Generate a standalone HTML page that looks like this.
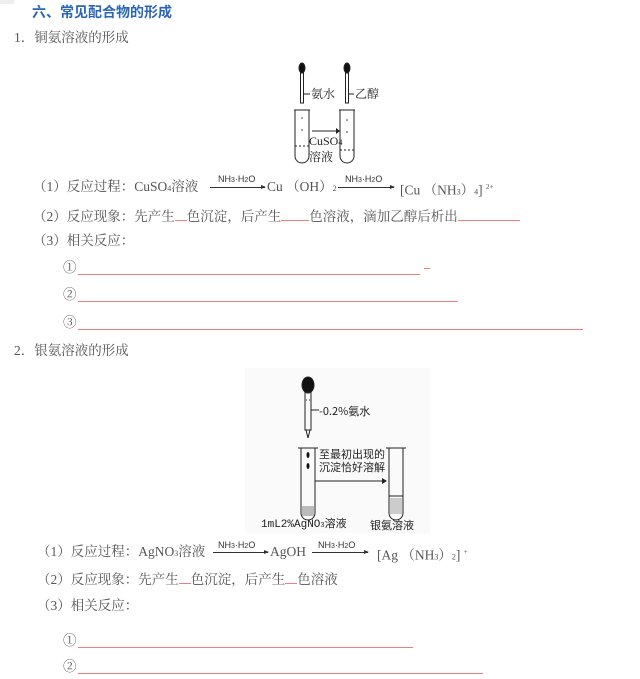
<!DOCTYPE html>
<html><head><meta charset="utf-8"><style>
body{margin:0;width:640px;height:679px;background:#fff;position:relative;overflow:hidden;font-family:"Liberation Serif","Noto Serif CJK SC","Noto Sans CJK SC",serif;color:#555;font-size:13.5px}
.a{position:absolute;white-space:nowrap;line-height:16px}
.t{color:#2a66b8;font-weight:bold;font-family:"Liberation Sans","Noto Sans CJK SC",sans-serif;font-size:14px}
.u{display:inline-block;border-bottom:1px solid #f07c7c;height:13px;vertical-align:baseline}
.rl{position:absolute;height:1px;background:#f07c7c}
.sm{font-size:8px}
.lab{position:absolute;font-size:9px;font-family:"Liberation Sans",sans-serif;color:#333}
.arr{position:absolute;height:0;border-top:1px solid #333}
.arr:after{content:"";position:absolute;right:-1px;top:-3px;border-left:5px solid #333;border-top:2.5px solid transparent;border-bottom:2.5px solid transparent}
</style></head><body>
<div style="position:absolute;left:0;top:0;width:14px;height:4px;background:#eee"></div>
<div class="a t" style="left:32px;top:4px">六、常见配合物的形成</div>
<div class="a" style="left:14px;top:30px">1．铜氨溶液的形成</div>

<svg style="position:absolute;left:290px;top:58px" width="80" height="110" viewBox="0 0 80 110">
<g stroke="#222" fill="none" stroke-width="1">
<ellipse cx="12" cy="10" rx="3" ry="5" fill="#111"/>
<rect x="10.5" y="15" width="3" height="30"/>
<line x1="13" y1="36" x2="20" y2="36"/>
<ellipse cx="57" cy="10" rx="3" ry="5" fill="#111"/>
<rect x="55.5" y="15" width="3" height="30"/>
<line x1="58" y1="36" x2="64" y2="36"/>
<path d="M5 52 V98 a7 7 0 0 0 14 0 V52"/>
<path d="M50 52 V98 a7 7 0 0 0 14 0 V52"/>
<line x1="4" y1="52" x2="20" y2="52"/><line x1="49" y1="52" x2="65" y2="52"/>
<line x1="22" y1="73" x2="46" y2="73"/>
<line x1="5" y1="88" x2="19" y2="88" stroke-dasharray="2 2"/>
<line x1="50" y1="92" x2="64" y2="92" stroke-dasharray="2 2"/>
</g>
<path d="M46 70 L50 73 L46 76z" fill="#222"/>
<circle cx="12" cy="60" r="0.8" fill="#333"/><circle cx="12" cy="72" r="0.8" fill="#333"/>
<circle cx="57" cy="62" r="0.8" fill="#333"/><circle cx="57" cy="74" r="0.8" fill="#333"/>
</svg>
<div class="a" style="left:311px;top:86px;font-size:12px;color:#222">氨水</div>
<div class="a" style="left:355px;top:86px;font-size:12px;color:#222">乙醇</div>
<div class="a" style="left:309px;top:133px;font-size:12px;color:#222">CuSO<span class="sm">4</span></div>
<div class="a" style="left:309px;top:149px;font-size:12px;color:#222">溶液</div>

<div class="a" style="left:33px;top:179px">（1）反应过程：CuSO<span class="sm">4</span>溶液</div>
<div class="lab" style="left:218px;top:174px">NH<span style="font-size:7px">3</span>·H<span style="font-size:7px">2</span>O</div>
<div class="arr" style="left:210px;top:187px;width:55px"></div>
<div class="a" style="left:267px;top:179px">Cu （OH）<span class="sm">2</span></div>
<div class="lab" style="left:345px;top:174px">NH<span style="font-size:7px">3</span>·H<span style="font-size:7px">2</span>O</div>
<div class="arr" style="left:338px;top:187px;width:56px"></div>
<div class="a" style="left:400px;top:179px">[Cu （NH<span class="sm">3</span>）<span class="sm">4</span>]  <sup style="font-size:7px">2+</sup></div>

<div class="a" style="left:33px;top:207px">（2）反应现象：先产生<span class="u" style="width:12px"></span>色沉淀，后产生<span class="u" style="width:28px"></span>色溶液，滴加乙醇后析出<span class="u" style="width:62px"></span></div>
<div class="a" style="left:33px;top:233px">（3）相关反应：</div>
<div class="a" style="left:63px;top:260px">①</div><div class="rl" style="left:78px;top:274px;width:342px"></div><div class="rl" style="left:424px;top:268px;width:6px"></div>
<div class="a" style="left:63px;top:287px">②</div><div class="rl" style="left:78px;top:301px;width:380px"></div>
<div class="a" style="left:63px;top:315px">③</div><div class="rl" style="left:78px;top:329px;width:505px"></div>

<div class="a" style="left:14px;top:343px">2．银氨溶液的形成</div>

<div style="position:absolute;left:245px;top:368px;width:185px;height:165px;background:#fafafa"></div>
<svg style="position:absolute;left:245px;top:368px" width="185" height="165" viewBox="0 0 185 165">
<g stroke="#222" fill="none" stroke-width="1">
<ellipse cx="63" cy="17" rx="6" ry="8" fill="#111"/>
<rect x="60" y="24" width="6" height="38"/>
<line x1="61" y1="32" x2="65" y2="32" stroke-dasharray="1 2"/>
<path d="M61 62 L63 70 L65 62"/>
<line x1="66" y1="42" x2="74" y2="42"/>
<path d="M56 80 V145 a7 7 0 0 0 14 0 V80"/>
<line x1="53" y1="80" x2="73" y2="80"/>
<path d="M144 80 V145 a7 7 0 0 0 14 0 V80"/>
<line x1="141" y1="80" x2="161" y2="80"/>
<line x1="70" y1="113" x2="137" y2="113"/>
<line x1="144" y1="128" x2="158" y2="128"/>
</g>
<path d="M137 110 L142 113 L137 116z" fill="#222"/>
<rect x="57" y="138" width="12" height="10" fill="#bbb"/>
<rect x="145" y="130" width="12" height="16" fill="#ccc"/>
<ellipse cx="63" cy="87" rx="1.5" ry="3" fill="#111"/>
<ellipse cx="63" cy="98" rx="1.5" ry="3" fill="#111"/>
</svg>
<div class="a" style="left:319px;top:403px;font-size:11px;color:#222;font-family:'Noto Sans CJK SC',sans-serif">-0.2%氨水</div>
<div class="a" style="left:319px;top:448px;font-size:11px;color:#222;font-family:'Noto Sans CJK SC',sans-serif;line-height:13px">至最初出现的<br>沉淀恰好溶解</div>
<div class="a" style="left:261px;top:517px;font-size:11px;color:#222;font-family:'Liberation Mono','Noto Sans CJK SC',monospace">1mL2%AgNO<span style="font-size:7px">3</span>溶液</div>
<div class="a" style="left:370px;top:517px;font-size:11px;color:#222;font-family:'Noto Sans CJK SC',sans-serif">银氨溶液</div>

<div class="a" style="left:37px;top:544px">（1）反应过程：AgNO<span class="sm">3</span>溶液</div>
<div class="lab" style="left:218px;top:540px">NH<span style="font-size:7px">3</span>·H<span style="font-size:7px">2</span>O</div>
<div class="arr" style="left:213px;top:552px;width:55px"></div>
<div class="a" style="left:270px;top:544px">AgOH</div>
<div class="lab" style="left:318px;top:540px">NH<span style="font-size:7px">3</span>·H<span style="font-size:7px">2</span>O</div>
<div class="arr" style="left:312px;top:552px;width:56px"></div>
<div class="a" style="left:377px;top:544px">[Ag （NH<span class="sm">3</span>）<span class="sm">2</span>]  <sup style="font-size:7px">+</sup></div>
<div class="a" style="left:37px;top:570px">（2）反应现象：先产生<span class="u" style="width:12px"></span>色沉淀，后产生<span class="u" style="width:12px"></span>色溶液</div>
<div class="a" style="left:37px;top:598px">（3）相关反应：</div>
<div class="a" style="left:63px;top:633px">①</div><div class="rl" style="left:78px;top:647px;width:335px"></div>
<div class="a" style="left:63px;top:659px">②</div><div class="rl" style="left:78px;top:673px;width:405px"></div>
</body></html>
